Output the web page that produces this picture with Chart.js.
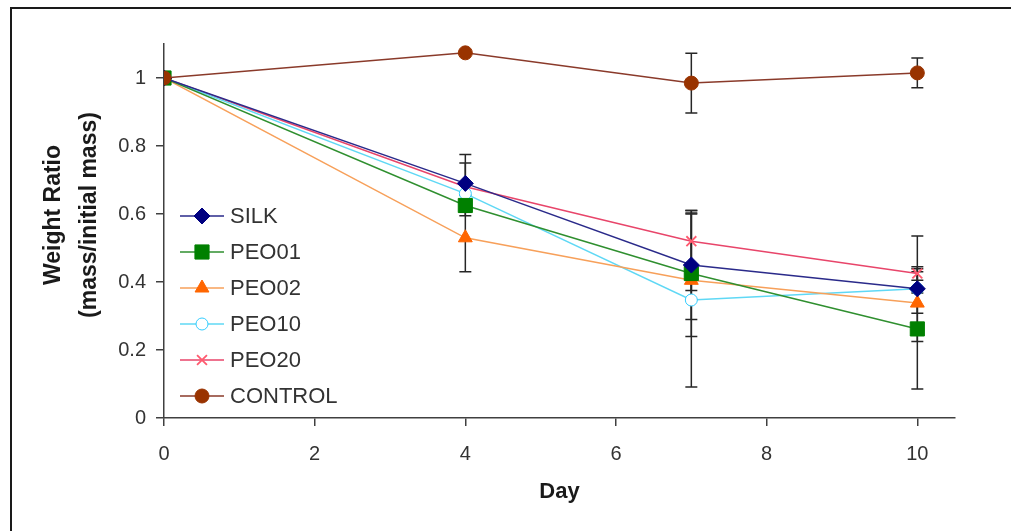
<!DOCTYPE html>
<html>
<head>
<meta charset="utf-8">
<script src="https://cdn.jsdelivr.net/npm/chart.js@4.4.1/dist/chart.umd.min.js"></script>
<style>
  html, body { margin: 0; padding: 0; background: #fff; }
  #wrap { position: relative; width: 1011px; height: 531px; overflow: hidden; }
  #frame { position: absolute; left: 10px; top: 7px; right: -4px; bottom: -4px;
           border-left: 2px solid #1a1a1a; border-top: 2px solid #1a1a1a; pointer-events: none; }
  canvas { position: absolute; left: 0; top: 0; }
</style>
</head>
<body>
<div id="wrap">
  <canvas id="chart" width="1011" height="531"></canvas>
  <div id="frame"></div>
</div>
<script>
// Dữ liệu
const days = [0, 4, 7, 10];
const silk = [1.0, 0.69, 0.45, 0.38];
const peo01 = [1.0, 0.625, 0.425, 0.262];
const peo02 = [1.0, 0.53, 0.405, 0.338];
const peo10 = [1.0, 0.66, 0.347, 0.38];
const peo20 = [1.0, 0.68, 0.52, 0.425];
const control = [1.0, 1.074, 0.985, 1.015];

// sai số (±)
const silkErr = [0, 0.085, 0.16, 0.155];
const peo01Err = [0, 0.03, 0.185, 0.177];
const peo02Err = [0, 0.1, 0.03, 0.03];
const peo10Err = [0, 0.03, 0.256, 0.05];
const peo20Err = [0, 0.07, 0.08, 0.02];
const controlErr = [0, 0, 0.088, 0.044];

const xTicks = [0, 2, 4, 6, 8, 10];
const yTicks = [0, 0.2, 0.4, 0.6, 0.8, 1];
const yTitle = ["Weight Ratio", "(mass/initial mass)"];

const pts = (vals) => vals.map((v, i) => ({ x: days[i], y: v }));
const FONT = "'Liberation Sans', Arial, sans-serif";

function series(label, vals, err, line, marker, style, radius, fill) {
  return {
    label: label,
    data: pts(vals),
    err: err,
    borderColor: line,
    borderWidth: 1.5,
    pointStyle: style,
    pointRadius: radius,
    pointHoverRadius: radius,
    pointBackgroundColor: fill || marker,
    pointBorderColor: marker,
    pointBorderWidth: style === "crossRot" ? 1.8 : 1,
    order: 1,
    tension: 0,
  };
}

const datasets = [
  series("SILK", silk, silkErr, "#2a2a8a", "#000080", "rectRot", 8),
  series("PEO01", peo01, peo01Err, "#2f8f2f", "#008000", "rect", 10),
  series("PEO02", peo02, peo02Err, "#f7a05a", "#ff6600", "triangle", 8),
  series("PEO10", peo10, peo10Err, "#5fd8f5", "#33ccff", "circle", 6, "#ffffff"),
  series("PEO20", peo20, peo20Err, "#e8456a", "#ff5a6e", "crossRot", 7),
  series("CONTROL", control, controlErr, "#8a3a2a", "#993300", "circle", 7),
];
// CONTROL vẽ trên cùng
datasets[5].order = 0;

// Thanh sai số
const errorBars = {
  id: "errorBars",
  beforeDatasetsDraw(chart) {
    const ctx = chart.ctx;
    const xs = chart.scales.x, ys = chart.scales.y;
    ctx.save();
    ctx.strokeStyle = "#262626";
    ctx.lineWidth = 1.5;
    chart.data.datasets.forEach((ds) => {
      ds.data.forEach((p, i) => {
        const e = ds.err[i];
        if (!e) return;
        const px = xs.getPixelForValue(p.x);
        const top = ys.getPixelForValue(p.y + e);
        const bot = ys.getPixelForValue(p.y - e);
        ctx.beginPath();
        ctx.moveTo(px, top); ctx.lineTo(px, bot);
        ctx.moveTo(px - 6, top); ctx.lineTo(px + 6, top);
        ctx.moveTo(px - 6, bot); ctx.lineTo(px + 6, bot);
        ctx.stroke();
      });
    });
    ctx.restore();
  },
};

// Chú giải bên trong vùng biểu đồ + tiêu đề trục y
const innerLegend = {
  id: "innerLegend",
  afterDraw(chart) {
    const ctx = chart.ctx;
    const area = chart.chartArea;
    const x0 = area.left + 16;
    let y = area.top + 172;
    ctx.save();
    ctx.font = "22px " + FONT;
    ctx.textBaseline = "middle";
    chart.data.datasets.forEach((ds) => {
      ctx.strokeStyle = ds.borderColor;
      ctx.lineWidth = 1.5;
      ctx.beginPath();
      ctx.moveTo(x0, y); ctx.lineTo(x0 + 44, y);
      ctx.stroke();
      ctx.fillStyle = ds.pointBackgroundColor;
      ctx.strokeStyle = ds.pointBorderColor;
      ctx.lineWidth = ds.pointBorderWidth;
      Chart.helpers.drawPoint(ctx, { pointStyle: ds.pointStyle, radius: ds.pointRadius, rotation: 0, borderWidth: ds.pointBorderWidth }, x0 + 22, y);
      ctx.fillStyle = "#333333";
      ctx.fillText(ds.label, x0 + 50, y + 1);
      y += 36;
    });
    // tiêu đề trục y
    ctx.translate(0, 215);
    ctx.rotate(-Math.PI / 2);
    ctx.font = "bold 23px " + FONT;
    ctx.fillStyle = "#1a1a1a";
    ctx.textAlign = "center";
    ctx.fillText(yTitle[0], 0, 54);
    ctx.fillText(yTitle[1], 0, 90);
    ctx.restore();
  },
};

new Chart(document.getElementById("chart"), {
  type: "line",
  data: { datasets: datasets },
  plugins: [errorBars, innerLegend],
  options: {
    responsive: false,
    animation: false,
    layout: { padding: { left: 0, right: 56, top: 44, bottom: 0 } },
    plugins: { legend: { display: false }, tooltip: { enabled: false } },
    scales: {
      x: {
        type: "linear",
        min: 0,
        max: 10.5,
        afterBuildTicks: (s) => { s.ticks = xTicks.map((v) => ({ value: v })); },
        afterFit: (s) => { s.height = 113; },
        grid: { drawOnChartArea: false, color: "#404040", tickLength: 8, lineWidth: 1.5 },
        border: { color: "#404040", width: 1.5 },
        ticks: { color: "#333333", padding: 16, font: { size: 20, family: FONT } },
        title: {
          display: true,
          text: "Day",
          color: "#1a1a1a",
          padding: { top: 0, bottom: 26 },
          font: { size: 22, weight: "bold", family: FONT },
        },
      },
      y: {
        type: "linear",
        min: 0,
        max: 1.1,
        afterBuildTicks: (s) => { s.ticks = yTicks.map((v) => ({ value: v })); },
        afterFit: (s) => { s.width = 164; },
        grid: { drawOnChartArea: false, color: "#404040", tickLength: 8, lineWidth: 1.5 },
        border: { color: "#404040", width: 1.5 },
        ticks: {
          color: "#333333",
          padding: 10,
          font: { size: 20, family: FONT },
          callback: (v) => String(Math.round(v * 10) / 10),
        },
      },
    },
  },
});
</script>
</body>
</html>
